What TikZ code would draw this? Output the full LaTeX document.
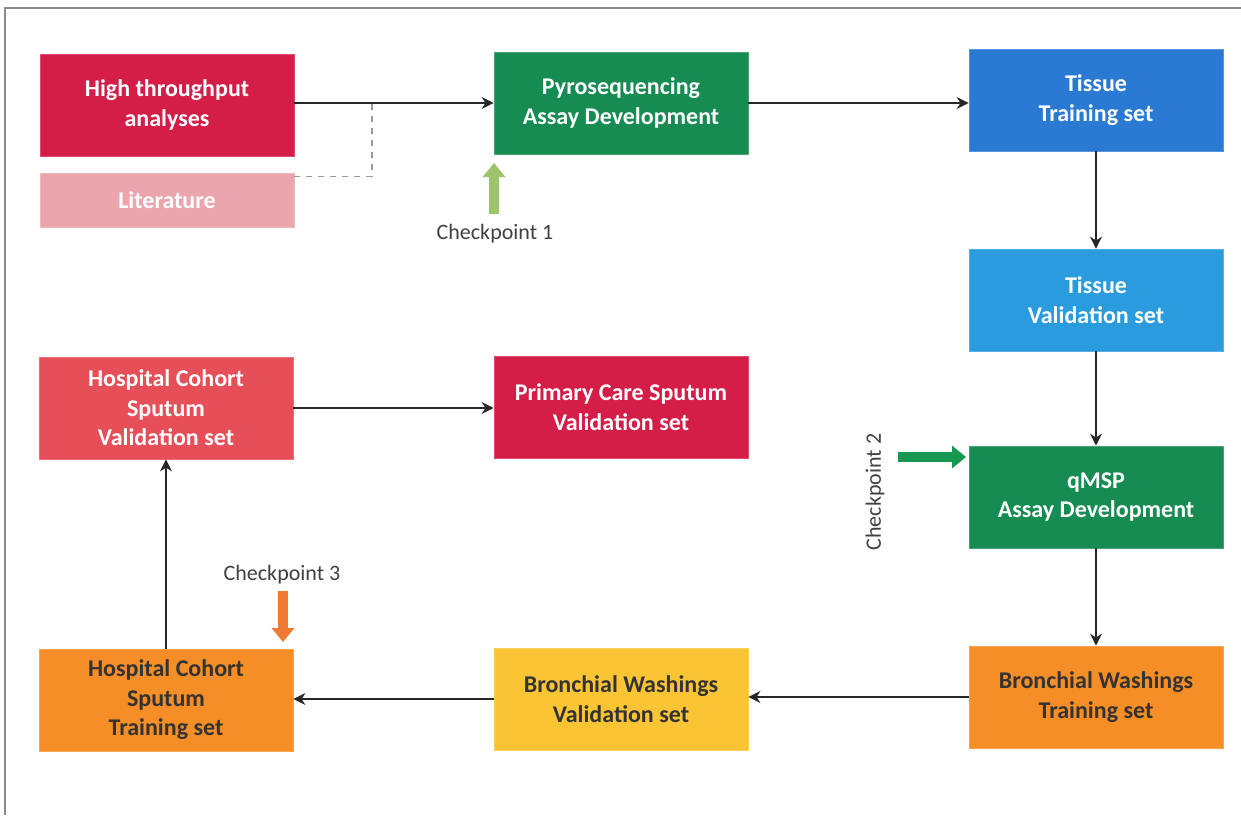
\documentclass[tikz,border=0pt]{standalone}
\usepackage{fontspec}
\setmainfont{Carlito}
\usetikzlibrary{arrows.meta}

\definecolor{crimson}{RGB}{212,30,72}
\definecolor{litpink}{RGB}{234,166,172}
\definecolor{pyrogreen}{RGB}{22,140,82}
\definecolor{tissueblue}{RGB}{42,122,212}
\definecolor{tissuelight}{RGB}{42,156,222}
\definecolor{bworange}{RGB}{245,142,38}
\definecolor{bwyellow}{RGB}{250,196,52}
\definecolor{hcsalmon}{RGB}{230,78,88}
\definecolor{cpone}{RGB}{156,196,106}
\definecolor{cptwo}{RGB}{22,152,82}
\definecolor{cpthree}{RGB}{240,122,52}

\begin{document}
\begin{tikzpicture}[x=0.5pt,y=-0.5pt,
  stagebox/.style={rectangle, minimum width=127pt, minimum height=51pt, inner sep=2pt,
    align=center, font=\fontsize{12}{14.75}\selectfont\bfseries, text=white},
  flow/.style={-{Stealth[length=6pt,width=6pt]}, line width=1pt, color=black!85},
  checkarrow/.style={line width=5pt, -{Triangle[length=7pt,width=11pt]}},
  checklabel/.style={font=\fontsize{11}{13}\selectfont, text=black!75}]
\useasboundingbox (0,0) rectangle (1241,815);
%frame
\draw [color=black!45, line width=0.6pt] (1241,8) -- (5,8) -- (5,815);

% Boxes, top row
\node (hta) [stagebox, fill=crimson, draw=crimson!80!white] at (167,105) {High throughput\\analyses};
\node (lit) [stagebox, fill=litpink, draw=litpink!80!white, minimum height=27pt] at (167,200) {Literature};
\node (pyro) [stagebox, fill=pyrogreen, draw=pyrogreen!80!white] at (621,103) {Pyrosequencing\\Assay Development};
\node (ttrain) [stagebox, fill=tissueblue, draw=tissueblue!80!white] at (1096,100) {Tissue\\Training set};
% Boxes, right column
\node (tval) [stagebox, fill=tissuelight, draw=tissuelight!80!white] at (1096,300) {Tissue\\Validation set};
\node (qmsp) [stagebox, fill=pyrogreen, draw=pyrogreen!80!white] at (1096,497) {qMSP\\Assay Development};
\node (bwtrain) [stagebox, fill=bworange, draw=bworange!80!white, text=black!80] at (1096,697) {Bronchial Washings\\Training set};
% Boxes, bottom row
\node (bwval) [stagebox, fill=bwyellow, draw=bwyellow!80!white, text=black!80] at (621,699) {Bronchial Washings\\Validation set};
\node (hctrain) [stagebox, fill=bworange, draw=bworange!80!white, text=black!80] at (166,700) {Hospital Cohort\\Sputum\\Training set};
% Boxes, middle row
\node (hcval) [stagebox, fill=hcsalmon, draw=hcsalmon!80!white] at (166,408) {Hospital Cohort\\Sputum\\Validation set};
\node (pcs) [stagebox, fill=crimson, draw=crimson!80!white] at (621,407) {Primary Care Sputum\\Validation set};

% Connectors
\coordinate (join) at (372,103);
\draw [flow] (hta.east |- pyro.west) -- (pyro.west);
\draw [dashed, color=black!40, line width=0.6pt] ([yshift=-2pt]lit.north east) -| (join);
\draw [flow] (pyro.east) -- (pyro.east -| ttrain.west);
\draw [flow] (ttrain) -- (tval);
\draw [flow] (tval) -- (qmsp);
\draw [flow] (qmsp) -- (bwtrain);
\draw [flow] (bwtrain.west) -- (bwtrain.west -| bwval.east);
\draw [flow] (bwval.west) -- (bwval.west -| hctrain.east);
\draw [flow] (hctrain) -- (hcval);
\draw [flow] (hcval.east) -- (hcval.east -| pcs.west);

% Checkpoints
\coordinate (cp1s) at (494,214);
\coordinate (cp1e) at (494,163);
\draw [checkarrow, color=cpone] (cp1s) -- (cp1e);
\node (cp1) [checklabel] at (495,234) {Checkpoint 1};
\coordinate (cp2s) at (898,457);
\coordinate (cp2e) at (966,457);
\draw [checkarrow, color=cptwo] (cp2s) -- (cp2e);
\node (cp2) [checklabel, rotate=90] at (875,492) {Checkpoint 2};
\coordinate (cp3s) at (283,591);
\coordinate (cp3e) at (283,642);
\draw [checkarrow, color=cpthree] (cp3s) -- (cp3e);
\node (cp3) [checklabel] at (282,575) {Checkpoint 3};

\end{tikzpicture}
\end{document}
